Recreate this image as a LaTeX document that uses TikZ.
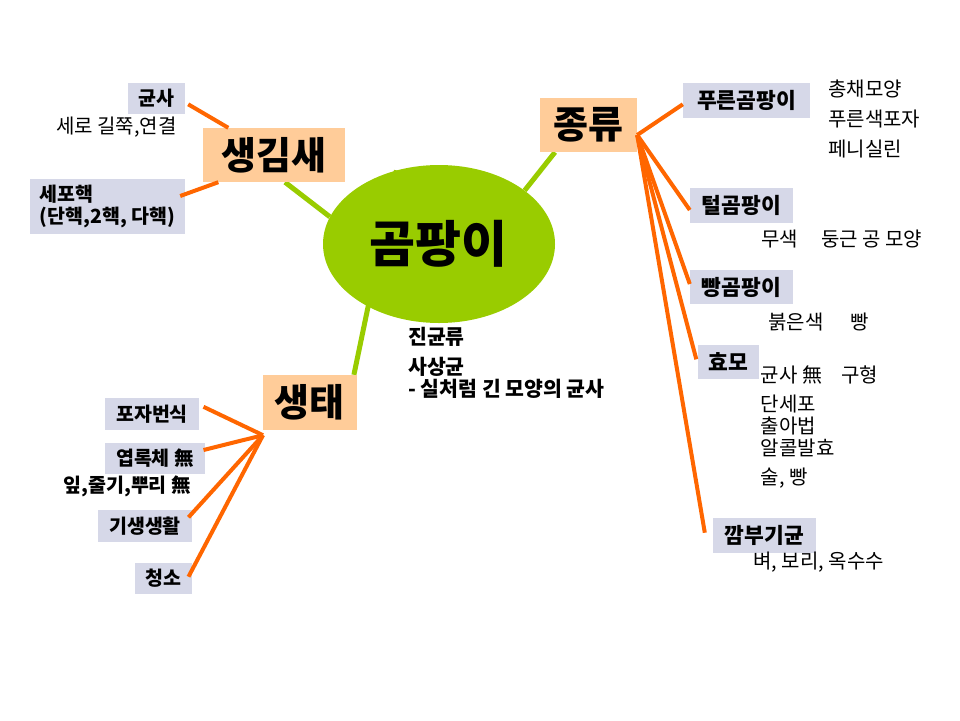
\documentclass[tikz,border=0pt]{standalone}
\usepackage{fontspec}
\setmainfont{Noto Sans CJK KR}
\usetikzlibrary{shapes.geometric,backgrounds}
\definecolor{moldgreen}{RGB}{153,204,0}
\definecolor{peach}{RGB}{255,204,153}
\definecolor{lav}{RGB}{214,216,232}
\definecolor{orng}{RGB}{255,102,0}
\begin{document}
\begin{tikzpicture}[x=1pt,y=-1pt,
  hub/.style={fill=peach, inner sep=0pt, font=\fontsize{38}{42}\selectfont\bfseries},
  leaf/.style={fill=lav, inner sep=0pt, font=\fontsize{19.5}{23}\selectfont\bfseries},
  rleaf/.style={fill=lav, inner sep=0pt, font=\fontsize{21.5}{25}\selectfont\bfseries},
  note/.style={inner sep=0pt, anchor=west, font=\fontsize{20}{24}\selectfont},
  bnote/.style={inner sep=0pt, anchor=west, font=\fontsize{20.5}{24}\selectfont\bfseries},
  gline/.style={draw=moldgreen, line width=5pt},
  oline/.style={draw=orng, line width=4pt}]
\useasboundingbox (0,0) rectangle (960,720);

% centre
\node[ellipse, fill=moldgreen, minimum width=232pt, minimum height=158pt, inner sep=0pt] (mold) at (439,244) {};
\node[inner sep=0pt, font=\fontsize{50}{54}\selectfont\bfseries] (moldtext) at (438,243.5) {곰팡이};

% hubs
\node[hub, minimum width=142pt, minimum height=54pt] (shape) at (274,155) {생김새};
\node[hub, minimum width=97pt, minimum height=54pt] (kind) at (588.5,125) {종류};
\node[hub, minimum width=94pt, minimum height=55pt] (eco) at (309.7,402.5) {생태};

% green connectors
\begin{scope}[on background layer]
\draw[gline] ([xshift=11pt]shape.south) -- (mold.166);
\draw[gline] ([xshift=-33.5pt]kind.south) -- (mold.32.4);
\draw[gline] ([xshift=-3pt]eco.north east) -- (mold.120.7);
\end{scope}

% left top leaves
\node[leaf, minimum width=57pt, minimum height=31pt] (gunsa) at (156.5,98.5) {균사};
\node[note] (gunsanote) at (56,127.3) {세로 길쭉,연결};
\node[leaf, minimum width=155pt, minimum height=55pt, align=left,
      font=\fontsize{19.5}{22.7}\selectfont\bfseries] (nucleus) at (107.5,206.5) {세포핵\\(단핵,2핵, 다핵)};

\draw[oline] ([xshift=3pt,yshift=-5.8pt]gunsa.east) -- ([xshift=-45.7pt]shape.north);
\draw[oline] ([xshift=-5pt,yshift=10.5pt]nucleus.east) -- ([xshift=-55.7pt]shape.south);

% right leaves
\node[rleaf, minimum width=127pt, minimum height=35pt] (blue) at (746.5,100.5) {푸른곰팡이};
\node[note] (blue1) at (828,89.3) {총채모양};
\node[note] (blue2) at (828,119.3) {푸른색포자};
\node[note] (blue3) at (828,149) {페니실린};

\node[rleaf, minimum width=103pt, minimum height=35pt] (hair) at (741.5,205.5) {털곰팡이};
\node[note] (hair1) at (761,239) {무색\hspace{23pt}둥근 공 모양};

\node[rleaf, minimum width=103pt, minimum height=34pt] (bread) at (741.5,287) {빵곰팡이};
\node[note] (bread1) at (768,321.7) {붉은색\hspace{27pt}빵};

\node[rleaf, minimum width=61pt, minimum height=34pt] (yeast) at (728.5,362) {효모};
\node[note] (yeast1) at (760.7,375) {균사 無\hspace{19pt}구형};
\node[note] (yeast2) at (760.7,404) {단세포};
\node[note] (yeast3) at (760.7,425.7) {출아법};
\node[note] (yeast4) at (760.7,448.3) {알콜발효};
\node[note] (yeast5) at (760.7,478.3) {술, 빵};

\node[rleaf, minimum width=103pt, minimum height=35pt] (smut) at (764.5,535.5) {깜부기균};
\node[note] (smut1) at (753.3,561.7) {벼, 보리, 옥수수};

\coordinate (kfan) at ([yshift=-10pt]kind.east);
\draw[oline] (kfan) -- ([yshift=-3.8pt]blue.west);
\draw[oline] (kfan) -- ([yshift=-4.5pt]hair.west);
\draw[oline] (kfan) -- ([yshift=3pt]bread.west);
\draw[oline] (kfan) -- ([xshift=-1.5pt,yshift=2.7pt]yeast.west);
\draw[oline] (kfan) -- ([xshift=-8pt,yshift=2.8pt]smut.west);

% middle notes
\node[bnote] (fungi1) at (408,337) {진균류};
\node[bnote] (fungi2) at (408,366.7) {사상균};
\node[bnote] (fungi3) at (408,389) {- 실처럼 긴 모양의 균사};

% bottom left leaves
\node[leaf, minimum width=94pt, minimum height=32pt] (spore) at (152,414) {포자번식};
\node[leaf, minimum width=100pt, minimum height=31pt] (chloro) at (155,458.5) {엽록체 無};
\node[bnote, font=\fontsize{19.5}{23}\selectfont\bfseries] (chloronote) at (63.3,486.7) {잎,줄기,뿌리 無};
\node[leaf, minimum width=94pt, minimum height=32pt] (para) at (145,526) {기생생활};
\node[leaf, minimum width=57pt, minimum height=31pt] (clean) at (163.5,578.5) {청소};

\coordinate (efan) at ([xshift=0.5pt,yshift=-5pt]eco.south west);
\draw[oline] ([xshift=4.3pt,yshift=7.2pt]spore.east) -- (efan);
\draw[oline] ([xshift=-1.7pt,yshift=8.5pt]chloro.east) -- (efan);
\draw[oline] ([xshift=-3.7pt,yshift=8.7pt]para.east) -- (efan);
\draw[oline] ([xshift=-3.7pt,yshift=1.8pt]clean.east) -- (efan);
\end{tikzpicture}
\end{document}
